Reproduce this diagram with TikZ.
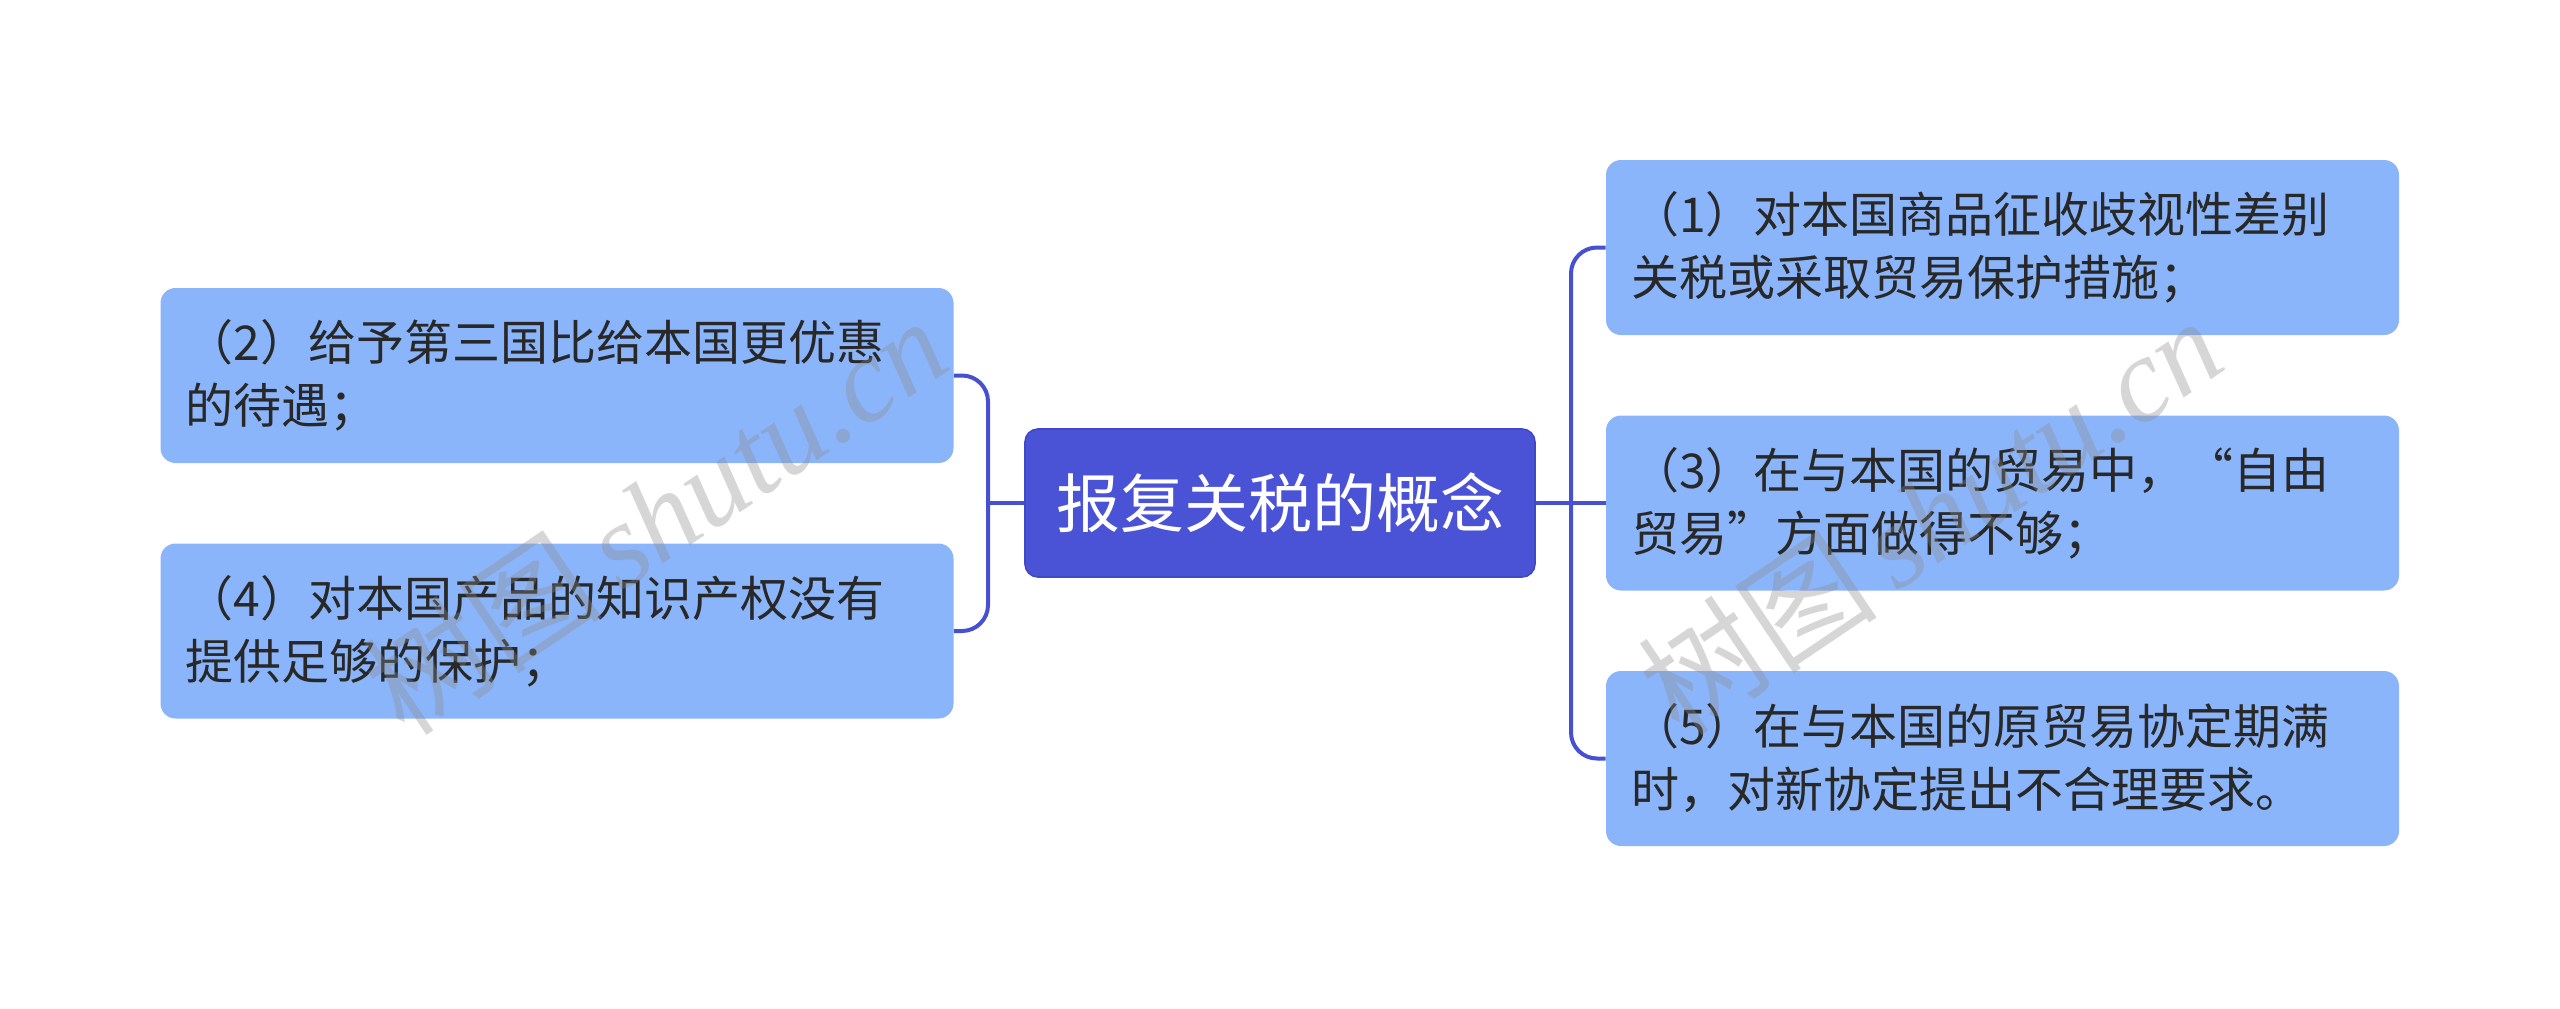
\documentclass[tikz,border=0pt]{standalone}
\usepackage{fontspec}
\setmainfont{Noto Sans CJK SC}
\newfontfamily\wmfont{Liberation Serif}
\newfontfamily\wmcjk{Noto Sans CJK SC}
\definecolor{mainblue}{RGB}{74,82,214}
\definecolor{mainedge}{RGB}{64,72,200}
\definecolor{childfill}{RGB}{139,181,250}
\definecolor{txt}{RGB}{40,40,40}
\definecolor{conncol}{RGB}{72,80,210}
\tikzset{
  rootbox/.style={fill=mainblue, draw=mainedge, line width=0.8pt, rounded corners=6.5pt,
    minimum width=255pt, minimum height=74pt, inner sep=0pt, text=white,
    font=\fontsize{32pt}{40pt}\selectfont},
  childbox/.style={fill=childfill, draw=none, rounded corners=7.5pt,
    minimum width=396.5pt, minimum height=87.5pt, inner xsep=12.5pt, inner ysep=0pt,
    text width=371.5pt, align=left, text=txt,
    font=\fontsize{24pt}{31.5pt}\selectfont},
  conn/.style={draw=conncol, line width=2pt, rounded corners=13pt},
  wmark/.style={text=black!45, opacity=0.35, rotate=34, font=\fontsize{60pt}{62pt}\selectfont}
}
\begin{document}
\begin{tikzpicture}[x=0.5pt,y=-0.5pt]
\useasboundingbox (0,0) rectangle (2560,1008);
\fill[white] (0,0) rectangle (2560,1008);

\node[rootbox] (root) at (1280,503) {报复关税的概念};

\node[childbox] (c2) at (557,375.5) {（2）给予第三国比给本国更优惠\\的待遇；};
\node[childbox] (c4) at (557,631) {（4）对本国产品的知识产权没有\\提供足够的保护；};

\node[childbox] (c1) at (2002.5,247.5) {（1）对本国商品征收歧视性差别\\关税或采取贸易保护措施；};
\node[childbox] (c3) at (2002.5,503) {（3）在与本国的贸易中，“自由\\贸易”方面做得不够；};
\node[childbox] (c5) at (2002.5,758.5) {（5）在与本国的原贸易协定期满\\时，对新协定提出不合理要求。};

\coordinate (R) at (1571,503);
\coordinate (L) at (988,503);

\draw[conn] (root.east) -- (c3.west);
\draw[conn] (c1.west) -- (c1.west -| R) -- (c5.west -| R) -- (c5.west);

\draw[conn] (root.west) -- (L);
\draw[conn] (c2.east) -- (c2.east -| L) -- (c4.east -| L) -- (c4.east);

\node[wmark] (wm1) at (655,515) {{\wmcjk 树图}\,{\wmfont\itshape shutu.cn}};
\node[wmark] (wm2) at (1930,515) {{\wmcjk 树图}\,{\wmfont\itshape shutu.cn}};
\end{tikzpicture}
\end{document}
